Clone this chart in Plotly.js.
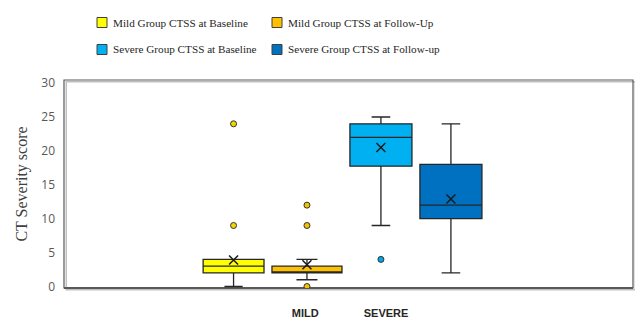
<!DOCTYPE html>
<html>
<head>
<meta charset="utf-8">
<script src="https://cdn.plot.ly/plotly-3.0.1.min.js"></script>
<style>html,body{margin:0;padding:0;background:#fff;}#chart{width:635px;height:320px;}</style>
</head>
<body>
<div id="chart"></div>
<script>
// ---- data ----
var seriesNames = ['Mild Group CTSS at Baseline', 'Mild Group CTSS at Follow-Up',
                   'Severe Group CTSS at Baseline', 'Severe Group CTSS at Follow-up'];
var groupLabels = ['MILD', 'SEVERE'];
var q1Values       = [2, 2, 17.75, 10];
var medianValues   = [3, 2, 22, 12];
var q3Values       = [4, 3, 24, 18];
var lowerWhisker   = [0, 1, 9, 2];
var upperWhisker   = [4, 4, 25, 24];
var meanValues     = [3.9, 3.2, 20.5, 12.9];
var outlierValues  = [[24, 9], [12, 9, 0], [4], []];

// ---- layout configuration ----
var boxPositions   = [2.98, 4.27, 5.57, 6.80];
var boxWidths      = [1.07, 1.23, 1.09, 1.09];
var labelPositions = [4.24, 5.66];
var fillColors     = ['#FFFF00', '#FFC000', '#00B0F0', '#0070C0'];
var outlierColors  = ['#F2D600', '#F2C200', '#00A6E6', '#0070C0'];
var lineColor      = '#262626';

// plot-area geometry in pixels (for the hand-placed legend)
var W = 635, H = 320, ML = 64, MR = 2, MT = 80, MB = 32;
var PW = W - ML - MR, PH = H - MT - MB;
function px2x(p) { return (p - ML) / PW; }
function py2y(p) { return (H - MB - p) / PH; }
var legendCols = [97, 272];   // square left edge (px)
var legendRows = [22.5, 49.5]; // row centre (px)
var legendSquare = 10;
var legendTextGap = 5;

var traces = [];
for (var i = 0; i < seriesNames.length; i++) {
  traces.push({
    type: 'box',
    name: seriesNames[i],
    x: [boxPositions[i]],
    q1: [q1Values[i]],
    median: [medianValues[i]],
    q3: [q3Values[i]],
    lowerfence: [lowerWhisker[i]],
    upperfence: [upperWhisker[i]],
    width: boxWidths[i],
    whiskerwidth: 0.3,
    fillcolor: fillColors[i],
    line: {color: lineColor, width: 1.3},
    boxpoints: false,
    hoverinfo: 'skip',
    showlegend: false
  });
}
for (var j = 0; j < seriesNames.length; j++) {
  if (outlierValues[j].length) {
    traces.push({
      type: 'scatter', mode: 'markers',
      x: outlierValues[j].map(function () { return boxPositions[j]; }),
      y: outlierValues[j],
      marker: {size: 6, color: outlierColors[j], line: {color: '#333333', width: 1}},
      showlegend: false, hoverinfo: 'skip'
    });
  }
}
traces.push({
  type: 'scatter', mode: 'markers',
  x: boxPositions, y: meanValues,
  marker: {symbol: 'x-thin-open', size: 9, color: '#1a1a1a', line: {color: '#1a1a1a', width: 1.5}},
  showlegend: false, hoverinfo: 'skip'
});

var shapes = [
  {type: 'rect', xref: 'paper', yref: 'paper', x0: 0.004, x1: 1.004, y0: -0.008, y1: 0.992,
   line: {color: '#bfbfbf', width: 1.5}, layer: 'below'},
  {type: 'rect', xref: 'paper', yref: 'paper', x0: 0, x1: 1, y0: 0, y1: 1,
   line: {color: '#595959', width: 1.2}, layer: 'below'},
  {type: 'line', xref: 'paper', yref: 'paper', x0: 0, x1: 1, y0: 0, y1: 0,
   line: {color: '#595959', width: 2}, layer: 'below'}
];
var annotations = [];
for (var k = 0; k < seriesNames.length; k++) {
  var col = k % 2, row = Math.floor(k / 2);
  var sx = legendCols[col], sy = legendRows[row];
  shapes.push({
    type: 'rect', xref: 'paper', yref: 'paper',
    x0: px2x(sx), x1: px2x(sx + legendSquare),
    y0: py2y(sy + legendSquare / 2), y1: py2y(sy - legendSquare / 2),
    fillcolor: fillColors[k], line: {color: '#404040', width: 1}
  });
  annotations.push({
    xref: 'paper', yref: 'paper',
    x: px2x(sx + legendSquare + legendTextGap), y: py2y(sy),
    xanchor: 'left', yanchor: 'middle', showarrow: false, borderpad: 0,
    text: seriesNames[k],
    font: {family: 'Liberation Serif, serif', size: 11.2, color: '#262626'}
  });
}

var layout = {
  width: W, height: H,
  margin: {l: ML, r: MR, t: MT, b: MB},
  paper_bgcolor: '#ffffff', plot_bgcolor: '#ffffff',
  showlegend: false,
  xaxis: {
    range: [0, 10], showgrid: false, zeroline: false, showline: false,
    tickvals: labelPositions, ticktext: groupLabels, ticks: '',
    ticklabelstandoff: 17,
    tickfont: {family: 'Liberation Sans, Arial, sans-serif', size: 11, color: '#262626', weight: 'bold'},
    fixedrange: true
  },
  yaxis: {
    range: [-0.22, 30.46], showgrid: false, zeroline: false, showline: false,
    tickvals: [0, 5, 10, 15, 20, 25, 30], ticks: '',
    ticklabelstandoff: 8,
    tickfont: {family: 'Open Sans, Liberation Sans, sans-serif', size: 12, color: '#595959'},
    title: {text: 'CT Severity score', standoff: 9,
            font: {family: 'Liberation Serif, serif', size: 16, color: '#404040'}},
    fixedrange: true
  },
  shapes: shapes,
  annotations: annotations
};

Plotly.newPlot('chart', traces, layout, {staticPlot: true, displayModeBar: false});
</script>
</body>
</html>
